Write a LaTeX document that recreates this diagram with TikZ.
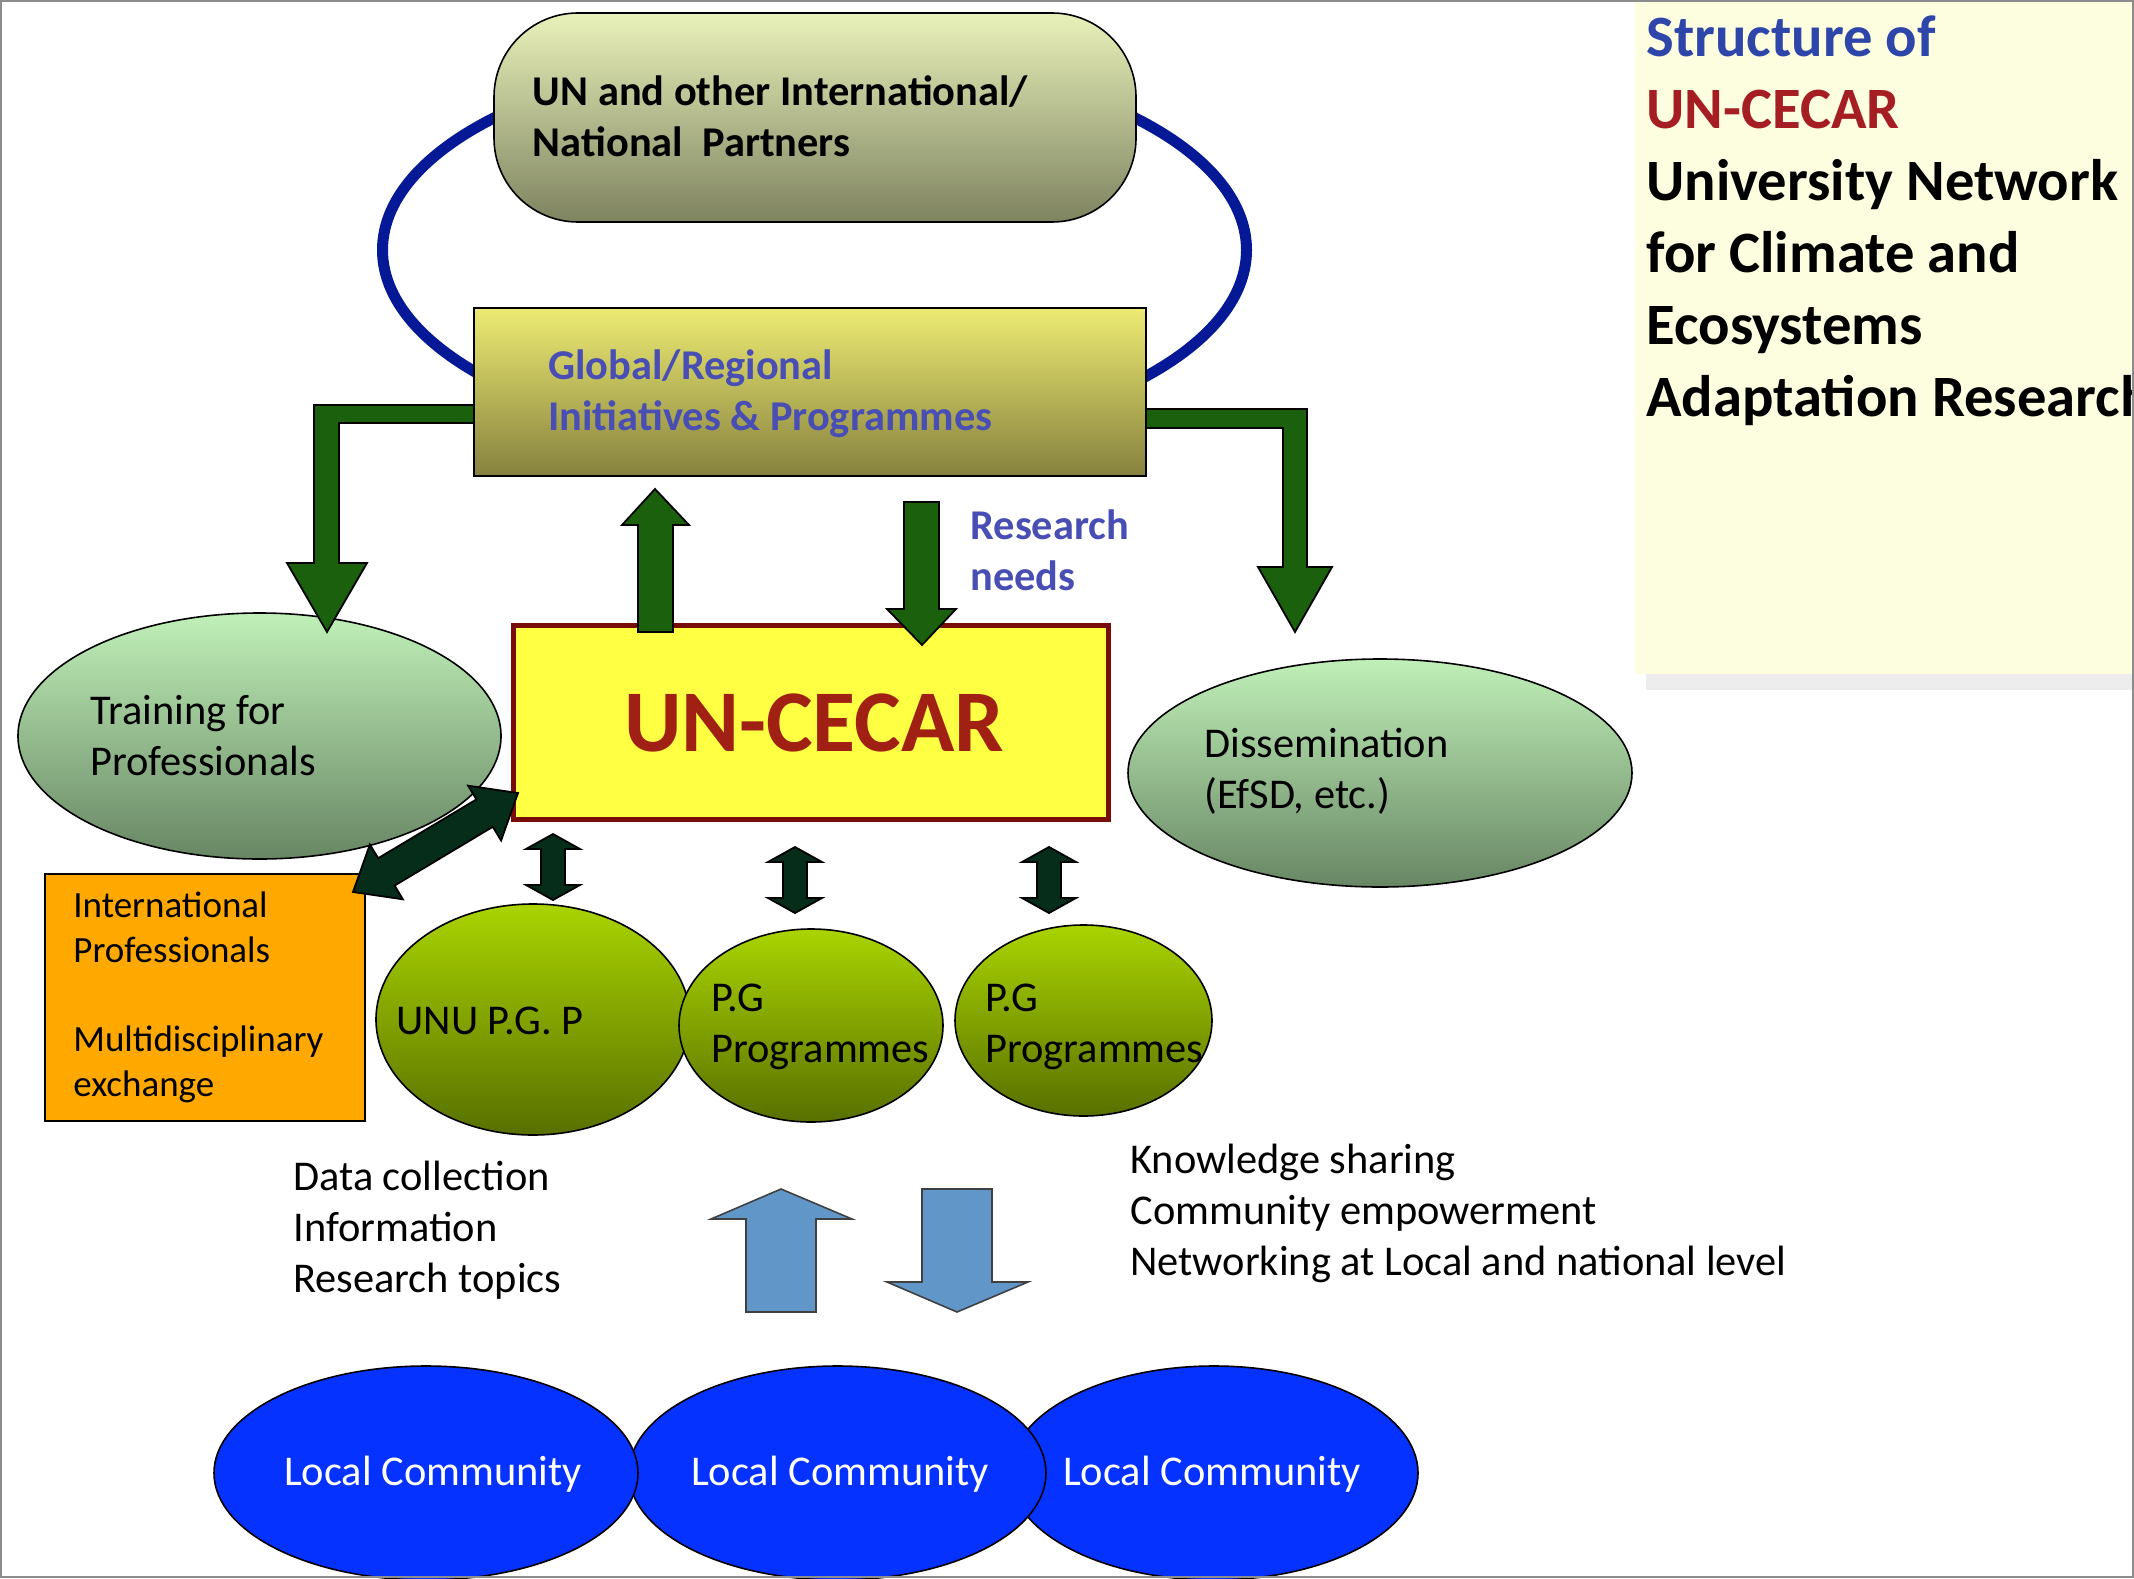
\documentclass[tikz,border=0pt]{standalone}
\usepackage{fontspec}
\setmainfont{Carlito}
\usetikzlibrary{shapes.geometric}
\definecolor{ringblue}{RGB}{5,25,150}
\definecolor{pilltop}{RGB}{233,241,186}
\definecolor{pillbot}{RGB}{126,131,96}
\definecolor{globtop}{RGB}{237,235,115}
\definecolor{globbot}{RGB}{134,129,62}
\definecolor{globtext}{RGB}{72,78,180}
\definecolor{arrgreen}{RGB}{26,96,13}
\definecolor{darkarr}{RGB}{6,44,26}
\definecolor{cecarfill}{RGB}{255,255,68}
\definecolor{cecarborder}{RGB}{120,12,8}
\definecolor{cecartext}{RGB}{160,32,20}
\definecolor{traintop}{RGB}{192,240,184}
\definecolor{trainbot}{RGB}{104,134,100}
\definecolor{pgtop}{RGB}{170,212,0}
\definecolor{pgbot}{RGB}{88,112,0}
\definecolor{orangefill}{RGB}{255,168,0}
\definecolor{lightblue}{RGB}{97,150,200}
\definecolor{commblue}{RGB}{5,50,255}
\definecolor{titlebg}{RGB}{253,253,223}
\definecolor{titleblue}{RGB}{46,70,170}
\definecolor{titlered}{RGB}{165,30,35}
\newcommand\vdarr[3]{%
  \draw[darkfill] (#1,#2) -- (#1+27,#2+15) -- (#1+12,#2+15) -- (#1+12,#3-15) -- (#1+27,#3-15) -- (#1,#3)
     -- (#1-27,#3-15) -- (#1-12,#3-15) -- (#1-12,#2+15) -- (#1-27,#2+15) -- cycle;}
\begin{document}
\begin{tikzpicture}[x=0.5pt,y=-0.5pt,
  txt/.style={inner sep=0pt, anchor=base west, align=left, font=\fontsize{21.2}{25.5}\selectfont},
  btxt/.style={txt, font=\fontsize{21.2}{25.5}\selectfont\bfseries},
  oval/.style={ellipse, draw, inner sep=0pt, line width=0.8pt},
  box/.style={rectangle, draw, inner sep=0pt, line width=0.8pt},
  greenfill/.style={fill=arrgreen, draw=black, line width=0.9pt, line join=miter},
  darkfill/.style={fill=darkarr, draw=black, line width=0.9pt},
  bluefill/.style={fill=lightblue, draw=black!75, line width=0.8pt}]
\useasboundingbox (0,0) rectangle (2134,1578);

% title panel
\fill[black!7] (1646,674) rectangle (2134,690);
\fill[titlebg] (1635,0) rectangle (2134,674);
\node[inner sep=0pt, anchor=base west, align=left, font=\fontsize{29.3}{36}\selectfont\bfseries] (title) at (1646,416)
  {\textcolor{titleblue}{Structure of}\\\textcolor{titlered}{UN-CECAR}\\University Network\\for Climate and\\Ecosystems\\Adaptation Research};

% ring
\node[ellipse, draw=ringblue, line width=5.5pt, inner sep=0pt, minimum width=432pt, minimum height=197pt] (ring) at (814.5,250) {};

% side ellipses
\node[oval, top color=traintop, bottom color=trainbot, minimum width=241.5pt, minimum height=123pt] (train) at (259.5,736) {};
\node[oval, top color=traintop, bottom color=trainbot, minimum width=252pt, minimum height=114pt] (dissem) at (1380,773) {};
\node[txt] (traintxt) at (90,775) {Training for\\Professionals};
\node[txt] (dissemtxt) at (1204,808) {Dissemination\\(EfSD, etc.)};

% L arrows
\draw[greenfill] (480,405) -- (314,405) -- (314,563) -- (287,563) -- (327,632) -- (367,563) -- (339,563) -- (339,423) -- (480,423) -- cycle;
\draw[greenfill] (1140,409) -- (1307,409) -- (1307,567) -- (1332,567) -- (1295,632) -- (1258,567) -- (1283,567) -- (1283,428) -- (1140,428) -- cycle;

% top boxes
\node[box, rounded corners=42pt, top color=pilltop, bottom color=pillbot, minimum width=321pt, minimum height=104.5pt] (partners) at (815,117.5) {};
\node[btxt] (partnerstxt) at (532.5,157) {UN and other International/\\National\ \ Partners};
\node[box, top color=globtop, bottom color=globbot, minimum width=336pt, minimum height=84pt] (global) at (810,392) {};
\node[btxt, text=globtext] (globaltxt) at (548,430) {Global/Regional\\Initiatives \& Programmes};

% UN-CECAR
\node[rectangle, draw=cecarborder, line width=2.5pt, fill=cecarfill, inner sep=0pt, minimum width=297.5pt, minimum height=97pt] (cecar) at (810.5,722) {};
\node[inner sep=0pt, anchor=base, text=cecartext, font=\fontsize{44}{50}\selectfont\bfseries] (cecartxt) at (814,751) {UN-CECAR};

% up / down arrows
\draw[greenfill] (638,632) -- (638,525) -- (622,525) -- (655,489) -- (689,525) -- (673,525) -- (673,632) -- cycle;
\draw[greenfill] (904,502) -- (939,502) -- (939,609) -- (956,609) -- (922,645) -- (887,609) -- (904,609) -- cycle;
\node[btxt, text=globtext] (needs) at (970,590) {Research\\needs};

% orange box
\node[box, fill=orangefill, minimum width=160pt, minimum height=123.5pt] (intl) at (205,997.5) {};
\node[txt, font=\fontsize{18.5}{22.5}\selectfont] (intltxt) at (73,962) {International\\Professionals};
\node[txt, font=\fontsize{18.5}{22.5}\selectfont] (multitxt) at (73,1096) {Multidisciplinary\\exchange};

% diagonal double arrow
\draw[darkfill] (518,793) -- (501.1,840.5) -- (492.8,826.8) -- (394.6,885.6) -- (402.9,899.3) -- (353,892)
   -- (369.9,844.5) -- (378.2,858.2) -- (476.4,799.4) -- (468.1,785.7) -- cycle;

% PG ellipses
\node[oval, top color=pgtop, bottom color=pgbot, minimum width=157pt, minimum height=115.5pt] (unu) at (533,1019.5) {};
\node[oval, top color=pgtop, bottom color=pgbot, minimum width=132pt, minimum height=96.5pt] (pg1) at (811,1025.5) {};
\node[oval, top color=pgtop, bottom color=pgbot, minimum width=128.5pt, minimum height=95.5pt] (pg2) at (1083.5,1020.5) {};
\node[txt] (unutxt) at (396,1034) {UNU P.G. P};
\node[txt] (pg1txt) at (711,1062) {P.G\\Programmes};
\node[txt] (pg2txt) at (985,1062) {P.G\\Programmes};

% small double arrows
\vdarr{553}{834}{900}
\vdarr{795}{847}{913}
\vdarr{1049}{847}{913}

% side texts
\node[txt] (datatxt) at (293,1292) {Data collection\\Information\\Research topics};
\node[txt] (knowtxt) at (1130,1275) {Knowledge sharing\\Community empowerment\\Networking at Local and national level};

% blue arrows
\draw[bluefill] (781,1189) -- (852,1219) -- (816,1219) -- (816,1312) -- (746,1312) -- (746,1219) -- (711,1219) -- cycle;
\draw[bluefill] (922,1189) -- (992,1189) -- (992,1282) -- (1028,1282) -- (957,1312) -- (887,1282) -- (922,1282) -- cycle;

% local communities
\node[oval, fill=commblue, minimum width=204pt, minimum height=107pt] (lc3) at (1214,1473) {};
\node[oval, fill=commblue, minimum width=208.5pt, minimum height=107pt] (lc2) at (837.5,1473) {};
\node[oval, fill=commblue, minimum width=212pt, minimum height=107pt] (lc1) at (426,1473) {};
\node[txt, anchor=base, text=white] (lc1txt) at (433,1485) {Local Community};
\node[txt, anchor=base, text=white] (lc2txt) at (840,1485) {Local Community};
\node[txt, anchor=base, text=white] (lc3txt) at (1212,1485) {Local Community};

% frame
\draw[black!45, line width=1pt] (1,1) rectangle (2133,1577);
\end{tikzpicture}
\end{document}
